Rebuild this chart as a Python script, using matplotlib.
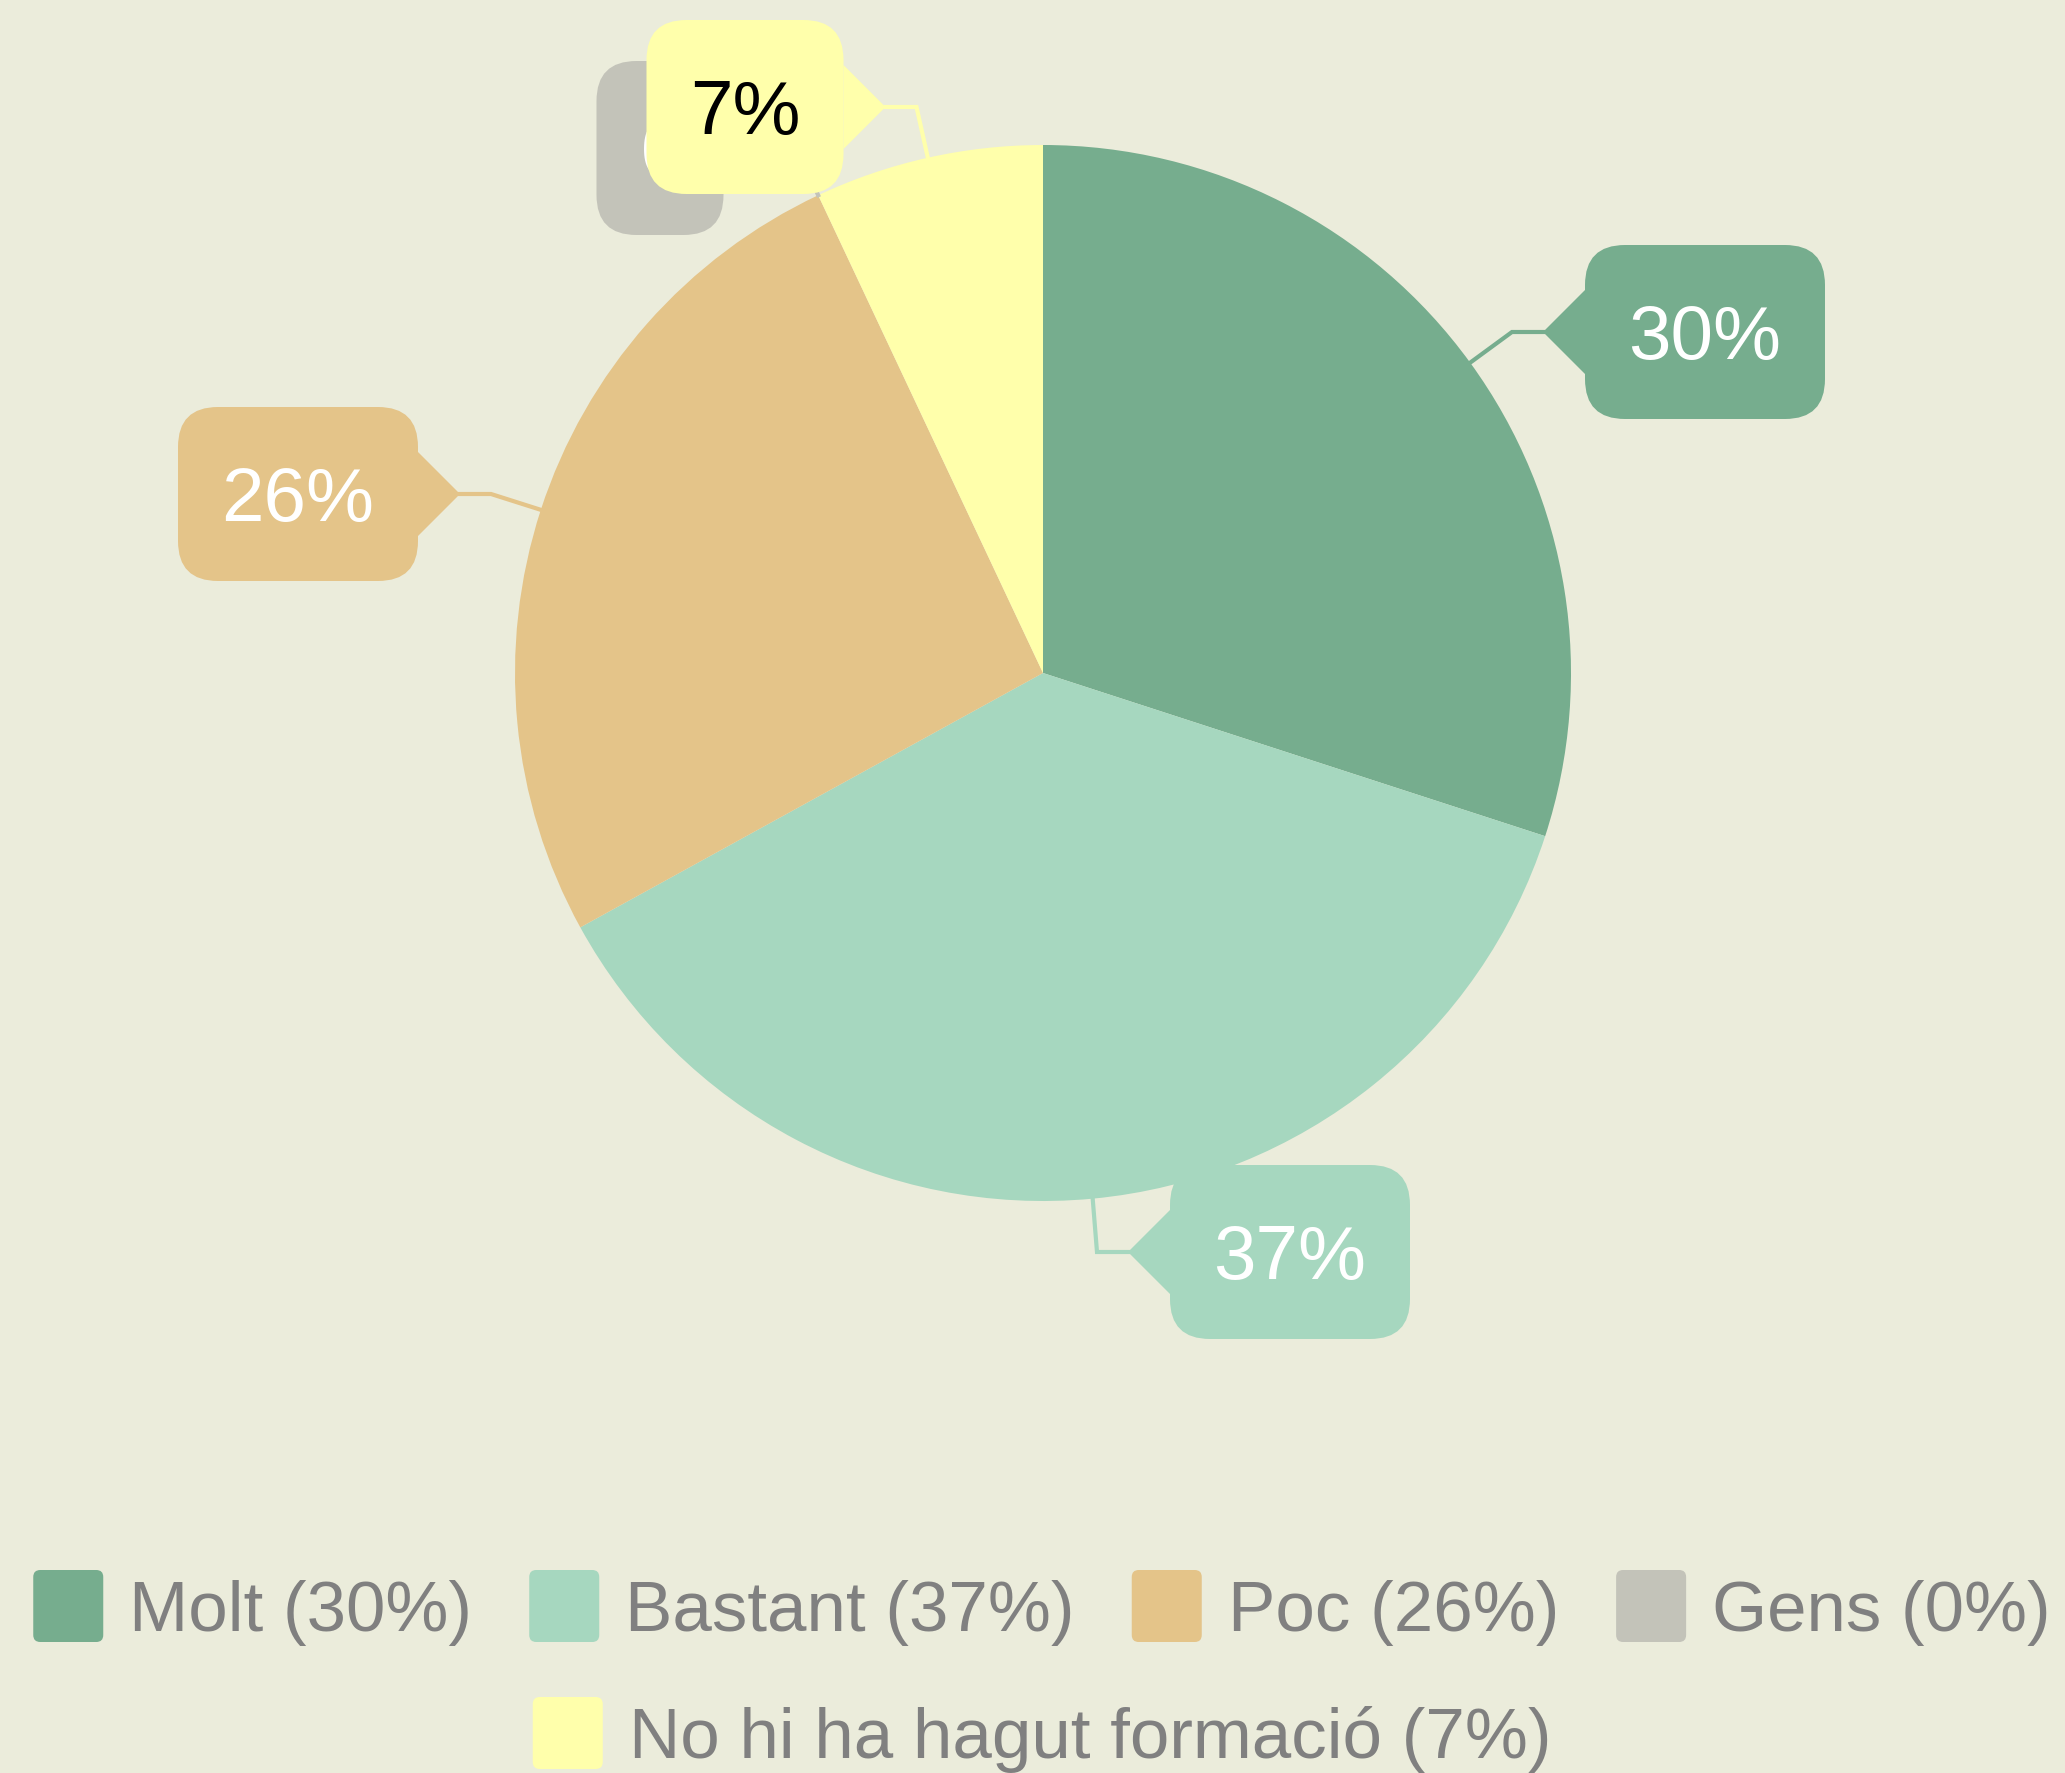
import numpy as np
import matplotlib
matplotlib.use("Agg")
import matplotlib.pyplot as plt
from matplotlib.patches import FancyBboxPatch, Polygon

plt.rcParams['font.family'] = ['Liberation Sans', 'DejaVu Sans']

# data
categories = ['Molt', 'Bastant', 'Poc', 'Gens', 'No hi ha hagut formació']
values = [30, 37, 26, 0, 7]
colors = ['#76ad8e', '#a6d7bf', '#e4c489', '#c3c3b9', '#ffffab']
label_text_colors = ['white', 'white', 'white', 'white', 'black']

# layout (pixels)
W, H, DPI = 2065, 1773, 100
BG = '#ebecdb'
CX, CY, R = 1043, 673, 528
box_centers = [(1705, 332), (1290, 1252), (298, 494), (660, 148), (745, 107)]
box_widths = [240, 240, 240, 127, 197]
box_h = 174
pointer_side = ['left', 'left', 'right', 'right', 'right']
text_dx = [0, 0, 0, 36, 0]

fig = plt.figure(figsize=(W / DPI, H / DPI), dpi=DPI, facecolor=BG)

# pie axes: square box centred at (CX, CY)
pax = fig.add_axes([(CX - R) / W, (H - CY - R) / H, 2 * R / W, 2 * R / H])
wedges, _ = pax.pie(values, colors=colors, startangle=90, counterclock=False,
                    radius=1, wedgeprops=dict(linewidth=0))
pax.set_xlim(-1, 1)
pax.set_ylim(-1, 1)
pax.set_aspect('auto')
pax.axis('off')

# overlay axes in pixel coordinates (y down)
ax = fig.add_axes([0, 0, 1, 1], zorder=5)
ax.set_xlim(0, W)
ax.set_ylim(H, 0)
ax.axis('off')
ax.patch.set_alpha(0)

to_px = pax.transData + ax.transData.inverted()

for i, w in enumerate(wedges):
    mid = np.deg2rad((w.theta1 + w.theta2) / 2)
    ex, ey = to_px.transform((np.cos(mid), np.sin(mid)))
    bx, by = box_centers[i]
    bw = box_widths[i]
    z = 10 + i
    if pointer_side[i] == 'left':
        edge_x = bx - bw / 2
        tip_x = edge_x - 42
        elbow_x = tip_x - 31
    else:
        edge_x = bx + bw / 2
        tip_x = edge_x + 42
        elbow_x = tip_x + 31
    ax.plot([ex, elbow_x, tip_x], [ey, by, by], color=colors[i], lw=3,
            solid_joinstyle='miter', zorder=z)
    ax.add_patch(Polygon([[edge_x, by - 42], [tip_x, by], [edge_x, by + 42]],
                         closed=True, fc=colors[i], ec='none', zorder=z))
    ax.add_patch(FancyBboxPatch((bx - bw / 2, by - box_h / 2), bw, box_h,
                                boxstyle='round,pad=0,rounding_size=40',
                                fc=colors[i], ec='none', zorder=z))
    ax.text(bx + text_dx[i], by + 27, f'{values[i]}%', fontsize=55,
            color=label_text_colors[i], ha='center', va='baseline', zorder=z)

# legend drawn as rows, centred
renderer = fig.canvas.get_renderer()
rows = [[0, 1, 2, 3], [4]]
row_y = [1606, 1733]
patch_w, patch_h, gap_in, gap_out = 70, 72, 26, 57
legend_fs = 51
for row, ry in zip(rows, row_y):
    texts = []
    widths = []
    for i in row:
        t = ax.text(0, ry + 25, f'{categories[i]} ({values[i]}%)', fontsize=legend_fs,
                    color='#808080', ha='left', va='baseline')
        bb = t.get_window_extent(renderer=renderer)
        texts.append(t)
        widths.append(bb.width)
    total = sum(patch_w + gap_in + tw for tw in widths) + gap_out * (len(row) - 1)
    x = 1042 - total / 2
    for i, t, tw in zip(row, texts, widths):
        ax.add_patch(FancyBboxPatch((x, ry - patch_h / 2), patch_w, patch_h,
                                    boxstyle='round,pad=0,rounding_size=7',
                                    fc=colors[i], ec='none'))
        t.set_x(x + patch_w + gap_in)
        x += patch_w + gap_in + tw + gap_out

fig.savefig('out.png', dpi=DPI, facecolor=BG)
